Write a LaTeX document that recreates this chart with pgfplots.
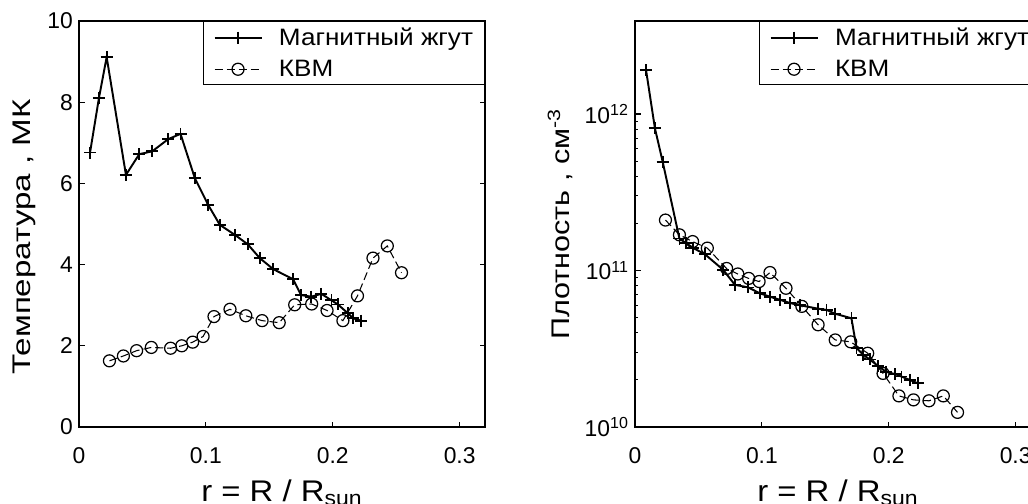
\documentclass[border=0pt]{standalone}
\usepackage{pgfplots}
\pgfplotsset{compat=1.18}
\usepackage{fontspec}
\setmainfont{Liberation Sans}

% one pixel of the reference = 0.2 mm
\pgfplotsset{
  mplstyle/.style={
    scale only axis,
    width=81.2mm, height=81.2mm,
    anchor=south west,
    axis line style={line width=1pt},
    every tick/.style={black, line width=0.6pt},
    major tick length=1.1mm,
    minor tick length=0.6mm,
    tick align=inside,
    xmin=0, xmax=0.32,
    xtick={0,0.1,0.2,0.3},
    xticklabels={0,0.1,0.2,0.3},
    xticklabel shift=2.8mm,
    ticklabel style={font=\fontsize{13}{15}\selectfont},
    label style={font=\fontsize{14.5}{17}\selectfont},
    xlabel style={font=\fontsize{17}{19}\selectfont, yshift=-0.8mm},
    xlabel={\scalebox{1.1}[1]{r = R / R\textsubscript{sun}}},
    legend style={at={(1,1)}, anchor=north east, draw=black, line width=0.6pt,
      font=\fontsize{13.5}{16}\selectfont, inner xsep=2mm, inner ysep=0.7mm,
      row sep=1.4mm, column sep=3mm, nodes={inner xsep=0.3mm, inner ysep=0.5mm}},
    legend cell align=left,
    legend image code/.code={%
      \draw[mark repeat=2,mark phase=2] plot coordinates {(0mm,0mm)(4.7mm,0mm)(9.4mm,0mm)};},
  },
  rope/.style={black, line width=1.1pt, mark=+, mark size=1.2mm,
    mark options={solid, line width=1pt}},
  kvm/.style={black, line width=0.6pt, dash pattern=on 1.6mm off 0.8mm,
    mark=o, mark size=1.2mm, mark options={solid, line width=0.7pt}},
}
\newcommand{\wide}[1]{\scalebox{1.1}[1]{#1}}

\begin{document}
\begin{tikzpicture}
% ---------------- temperature ----------------
\begin{axis}[mplstyle,
  at={(15.8mm,15.2mm)},
  ymin=0, ymax=10,
  ytick={0,2,4,6,8,10},
  yticklabels={0,2,4,6,8,10},
  ylabel={\scalebox{1.3}[1]{Температура , МК}},
  ylabel style={at={(ticklabel cs:0.468)}},
]
\addplot[rope] coordinates {
  (0.0087,6.76) (0.0157,8.10) (0.0218,9.11) (0.037,6.21) (0.0475,6.72)
  (0.0577,6.79) (0.0703,7.09) (0.080,7.22) (0.0913,6.13) (0.1018,5.47)
  (0.111,4.98) (0.123,4.73) (0.133,4.50) (0.1425,4.16) (0.153,3.89)
  (0.1687,3.64) (0.175,3.25) (0.183,3.21) (0.191,3.28) (0.199,3.12)
  (0.204,3.02) (0.212,2.80) (0.216,2.68) (0.222,2.62)
};
\addlegendentry{\wide{Магнитный жгут}}
\addplot[kvm] coordinates {
  (0.024,1.63) (0.035,1.75) (0.0454,1.88) (0.057,1.96) (0.0722,1.94)
  (0.081,2.00) (0.0896,2.09) (0.0978,2.23) (0.1064,2.72) (0.119,2.90)
  (0.1315,2.74) (0.1443,2.62) (0.1578,2.57) (0.170,3.01) (0.1834,3.03)
  (0.1955,2.87) (0.208,2.62) (0.2195,3.23) (0.2317,4.16) (0.243,4.46)
  (0.2542,3.80)
};
\addlegendentry{\wide{КВМ}}
\end{axis}

% ---------------- density ----------------
\begin{axis}[mplstyle,
  at={(127mm,15.2mm)},
  ymode=log,
  ymin=1e10, ymax=3.93e12,
  ytick={1e10,1e11,1e12},
  yticklabels={10\textsuperscript{10},10\textsuperscript{11},10\textsuperscript{12}},
  ylabel={\scalebox{1.2}[1]{Плотность , см\textsuperscript{-3}}},
]
\addplot[rope] coordinates {
  (0.0087,1.91e12) (0.0157,8.1e11) (0.0218,4.96e11) (0.035,1.6e11)
  (0.040,1.5e11) (0.046,1.39e11) (0.0551,1.27e11) (0.0695,1.01e11)
  (0.0787,8.1e10) (0.0892,7.8e10) (0.0984,7.15e10) (0.1063,6.8e10)
  (0.1142,6.5e10) (0.122,6.2e10) (0.130,6.0e10) (0.1443,5.7e10)
  (0.151,5.6e10) (0.1575,5.3e10) (0.1706,4.95e10) (0.1746,3.2e10)
  (0.1798,2.9e10) (0.185,2.7e10) (0.1916,2.45e10) (0.198,2.25e10)
  (0.2047,2.18e10) (0.21,2.1e10) (0.2165,2.0e10) (0.223,1.9e10)
};
\addlegendentry{\wide{Магнитный жгут}}
\addplot[kvm] coordinates {
  (0.024,2.1e11) (0.035,1.69e11) (0.0454,1.53e11) (0.057,1.39e11)
  (0.0722,1.03e11) (0.081,9.5e10) (0.0896,8.9e10) (0.0978,8.5e10)
  (0.1064,9.7e10) (0.119,7.7e10) (0.1315,5.9e10) (0.1443,4.5e10)
  (0.1578,3.6e10) (0.170,3.5e10) (0.1834,2.96e10) (0.1955,2.2e10)
  (0.208,1.58e10) (0.2195,1.49e10) (0.2317,1.47e10) (0.243,1.58e10)
  (0.2542,1.24e10)
};
\addlegendentry{\wide{КВМ}}
\end{axis}

\pgfresetboundingbox
\useasboundingbox (0,0) rectangle (205.6mm,100.6mm);
\end{tikzpicture}
\end{document}
